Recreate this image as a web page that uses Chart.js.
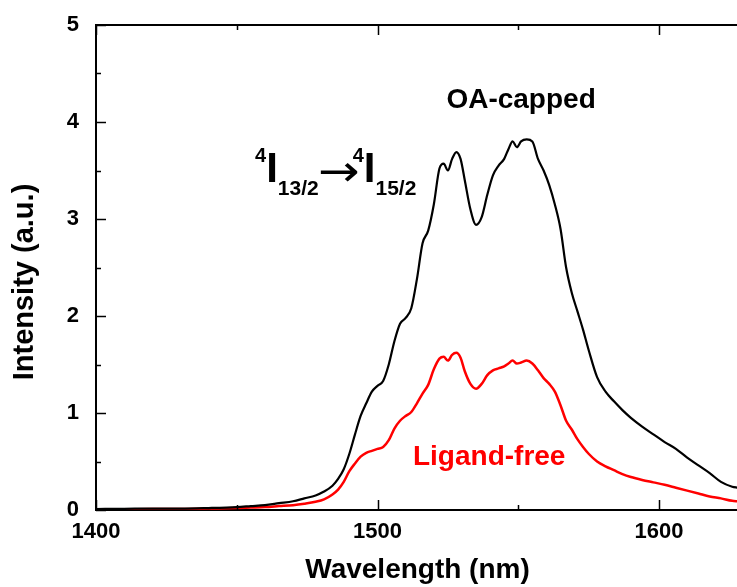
<!DOCTYPE html>
<html>
<head>
<meta charset="utf-8">
<script src="https://cdn.jsdelivr.net/npm/chart.js@4/dist/chart.umd.min.js"></script>
<style>
  html, body { margin: 0; padding: 0; background: #fff; }
  canvas { display: block; }
</style>
</head>
<body>
<canvas id="pl" width="737" height="587"></canvas>
<script>
// Emission wavelengths (nm)
const wavelength = [
  1400, 1410, 1420, 1430, 1440, 1450, 1455, 1460, 1465, 1470,
  1474, 1478, 1481, 1484, 1486, 1488, 1490, 1492, 1494, 1496,
  1498, 1500, 1502, 1504, 1506, 1508, 1510, 1512, 1514, 1516,
  1518, 1520, 1522, 1523.5, 1525, 1526.5, 1528, 1529.5, 1531, 1533,
  1535, 1537, 1539, 1541, 1543, 1545, 1546.5, 1548, 1549.5, 1551,
  1553, 1555, 1557, 1559, 1561, 1563, 1565, 1567, 1569, 1571,
  1573, 1575, 1578, 1581, 1584, 1587, 1590, 1594, 1598, 1602,
  1606, 1610, 1614, 1618, 1622, 1626, 1628
];

// PL intensity (a.u.), OA-capped nanocrystals
const oaCapped = [
  0.01, 0.012, 0.015, 0.014, 0.02, 0.03, 0.04, 0.05, 0.07, 0.09,
  0.12, 0.15, 0.19, 0.25, 0.32, 0.42, 0.58, 0.78, 0.97, 1.1,
  1.22, 1.28, 1.33, 1.5, 1.74, 1.92, 1.98, 2.08, 2.38, 2.75,
  2.88, 3.15, 3.52, 3.57, 3.5, 3.62, 3.69, 3.62, 3.4, 3.1,
  2.94, 3.02, 3.25, 3.45, 3.55, 3.62, 3.72, 3.8, 3.74, 3.8,
  3.82, 3.8, 3.62, 3.5, 3.35, 3.15, 2.9, 2.5, 2.24, 2.05,
  1.86, 1.65, 1.37, 1.22, 1.12, 1.03, 0.95, 0.86, 0.78, 0.7,
  0.63, 0.54, 0.46, 0.38, 0.29, 0.24, 0.23
];

// PL intensity (a.u.), ligand-free nanocrystals
const ligandFree = [
  0.005, 0.006, 0.01, 0.01, 0.015, 0.02, 0.025, 0.03, 0.04, 0.05,
  0.065, 0.085, 0.11, 0.16, 0.21, 0.29, 0.4, 0.48, 0.55, 0.59,
  0.61, 0.63, 0.65, 0.72, 0.84, 0.92, 0.97, 1.01, 1.1, 1.2,
  1.29, 1.45, 1.56, 1.58, 1.54, 1.6, 1.62, 1.57, 1.43, 1.3,
  1.25, 1.3, 1.39, 1.44, 1.46, 1.48, 1.51, 1.54, 1.51, 1.52,
  1.54, 1.51, 1.44, 1.36, 1.3, 1.22, 1.08, 0.92, 0.83, 0.73,
  0.65, 0.58, 0.5, 0.45, 0.41, 0.37, 0.34, 0.31, 0.285, 0.26,
  0.23, 0.2, 0.17, 0.14, 0.12, 0.095, 0.09
];

const xLabels = [1400, 1500, 1600];
const yLabels = [0, 1, 2, 3, 4, 5];

const FONT = "'Liberation Sans', Arial, sans-serif";

function toPoints(xs, ys) {
  return xs.map((x, i) => ({ x: x, y: ys[i] }));
}

// Draws the arrow glyph stretched to a given width and ink height,
// centred vertically on cy, starting at x0.
function drawArrow(ctx, x0, cy, width, height) {
  ctx.save();
  ctx.font = '100px "DejaVu Sans", sans-serif';
  const m = ctx.measureText('\u2192');
  const inkH = m.actualBoundingBoxAscent + m.actualBoundingBoxDescent;
  const size = 100 * height / inkH;
  ctx.font = size + 'px "DejaVu Sans", sans-serif';
  const m2 = ctx.measureText('\u2192');
  const w2 = m2.actualBoundingBoxLeft + m2.actualBoundingBoxRight;
  const sx = width / w2;
  const midOff = (m2.actualBoundingBoxAscent - m2.actualBoundingBoxDescent) / 2;
  ctx.translate(x0, cy + midOff);
  ctx.scale(sx, 1);
  ctx.textAlign = 'left';
  ctx.textBaseline = 'alphabetic';
  ctx.fillText('\u2192', m2.actualBoundingBoxLeft, 0);
  ctx.restore();
}

// Inward tick marks, mirrored top axis line and on-plot text
const framePlugin = {
  id: 'frame',
  afterDraw(chart) {
    const ctx = chart.ctx;
    const xs = chart.scales.x;
    const ys = chart.scales.y;
    const a = chart.chartArea;
    ctx.save();
    ctx.strokeStyle = '#000';
    ctx.lineWidth = 2;
    // top axis line
    ctx.beginPath();
    ctx.moveTo(a.left - 1, a.top);
    ctx.lineTo(a.right, a.top);
    ctx.stroke();
    // x ticks every 50 nm, bottom and top
    ctx.lineWidth = 1.5;
    for (let v = 1400; v <= xs.max; v += 50) {
      const px = Math.round(xs.getPixelForValue(v)) + 0.5;
      const len = (v % 100 === 0) ? 10 : 5;
      ctx.beginPath();
      ctx.moveTo(px, a.bottom);
      ctx.lineTo(px, a.bottom - len);
      ctx.moveTo(px, a.top);
      ctx.lineTo(px, a.top + len);
      ctx.stroke();
    }
    // y ticks every 0.5
    for (let v = 0; v <= 5; v += 0.5) {
      const py = Math.round(ys.getPixelForValue(v)) + 0.5;
      const len = Number.isInteger(v) ? 10 : 5;
      ctx.beginPath();
      ctx.moveTo(a.left, py);
      ctx.lineTo(a.left + len, py);
      ctx.stroke();
    }

    // axis titles
    ctx.fillStyle = '#000';
    ctx.font = 'bold 28px ' + FONT;
    ctx.textAlign = 'center';
    ctx.textBaseline = 'alphabetic';
    ctx.fillText('Wavelength (nm)', (a.left + a.right) / 2 + 1, 578);
    ctx.save();
    ctx.translate(33, 282);
    ctx.rotate(-Math.PI / 2);
    ctx.font = 'bold 29px ' + FONT;
    ctx.fillText('Intensity (a.u.)', 0, 0);
    ctx.restore();

    // series labels
    ctx.font = 'bold 28px ' + FONT;
    ctx.textAlign = 'center';
    ctx.fillStyle = '#000';
    ctx.fillText('OA-capped', xs.getPixelForValue(1551), ys.getPixelForValue(4.14));
    ctx.textAlign = 'left';
    ctx.fillStyle = '#ff0000';
    ctx.fillText('Ligand-free', xs.getPixelForValue(1512.6), ys.getPixelForValue(0.464));

    // transition label 4I13/2 -> 4I15/2
    ctx.fillStyle = '#000';
    let x = xs.getPixelForValue(1456.5);
    const base = ys.getPixelForValue(3.38);
    const pieces = [
      { t: '4', size: 20, dy: -20 },
      { t: 'I', size: 42, dy: 0 },
      { t: '13/2', size: 21, dy: 13 },
      { arrow: true },
      { t: '4', size: 20, dy: -20 },
      { t: 'I', size: 42, dy: 0 },
      { t: '15/2', size: 21, dy: 13 }
    ];
    for (const p of pieces) {
      if (p.arrow) {
        drawArrow(ctx, x + 1.5, base - 10, 38, 19);
        x += 34;
        continue;
      }
      ctx.font = 'bold ' + p.size + 'px ' + FONT;
      ctx.fillText(p.t, x, base + p.dy);
      x += ctx.measureText(p.t).width;
    }
    ctx.restore();
  }
};

new Chart(document.getElementById('pl'), {
  type: 'line',
  data: {
    datasets: [
      {
        label: 'OA-capped',
        data: toPoints(wavelength, oaCapped),
        borderColor: '#000000',
        borderWidth: 2.2,
        pointRadius: 0,
        cubicInterpolationMode: 'monotone',
        fill: false
      },
      {
        label: 'Ligand-free',
        data: toPoints(wavelength, ligandFree),
        borderColor: '#ff0000',
        borderWidth: 2.5,
        pointRadius: 0,
        cubicInterpolationMode: 'monotone',
        fill: false
      }
    ]
  },
  options: {
    responsive: false,
    devicePixelRatio: 1,
    animation: false,
    layout: { padding: { top: 25, right: 0, bottom: 0, left: 0 } },
    plugins: { legend: { display: false }, tooltip: { enabled: false } },
    scales: {
      x: {
        type: 'linear',
        position: 'bottom',
        min: 1400,
        max: 1627.7,
        grid: { display: false },
        border: { display: true, color: '#000', width: 2 },
        afterFit(s) { s.height = 77; },
        afterBuildTicks(s) { s.ticks = xLabels.map(v => ({ value: v })); },
        ticks: {
          color: '#000',
          padding: 1,
          maxRotation: 0,
          autoSkip: false,
          font: { family: FONT, size: 22, weight: 'bold' },
          callback: v => String(v)
        }
      },
      y: {
        min: 0,
        max: 5,
        grid: { display: false },
        border: { display: true, color: '#000', width: 2 },
        afterFit(s) { s.width = 96; },
        afterBuildTicks(s) { s.ticks = yLabels.map(v => ({ value: v })); },
        ticks: {
          color: '#000',
          padding: 9,
          font: { family: FONT, size: 22, weight: 'bold' },
          callback: v => String(v)
        }
      }
    }
  },
  plugins: [framePlugin]
});
</script>
</body>
</html>
